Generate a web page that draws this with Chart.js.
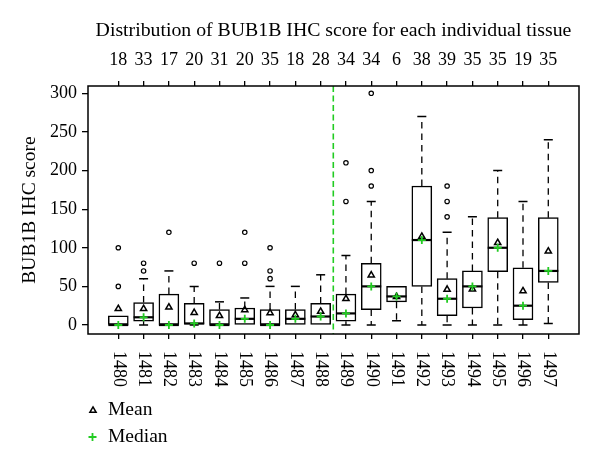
<!DOCTYPE html>
<html>
<head>
<meta charset="utf-8">
<script src="https://cdn.jsdelivr.net/npm/chart.js@4"></script>
<style>
html,body{margin:0;padding:0;background:#fff;}
#wrap{width:600px;height:469px;position:relative;}
</style>
</head>
<body>
<div id="wrap"><canvas id="c"></canvas></div>
<script>
// ---- data ----
const categories = ['1480','1481','1482','1483','1484','1485','1486','1487','1488','1489','1490','1491','1492','1493','1494','1495','1496','1497'];
const counts = [18,33,17,20,31,20,35,18,28,34,34,6,38,39,35,35,19,35];
const q1 = [0,5,0,1,0,0,0,0,0,5,20,30,50,12,22,69,7,55];
const q3 = [12,29,40,28,20,22,20,20,28,40,80,50,180,60,70,139,74,139];
const median = [0,10,0,2,0,8,0,8,11,15,50,37,110,34,50,100,25,70];
const mean = [21,21,23,16,12,19.5,15.5,13,17.5,34,64.5,36.5,114.5,46,46.5,106.5,44,95.5];
const whiskerLow = [0,0,0,0,0,0,0,0,0,0,0,5.5,0,0,0,0,0,2];
const whiskerHigh = [12,60,70,50,30,35,50,50,65,90,160,50,270,120,140,200,160,240];
const outliers = [[50,100],[70,80],[120],[80],[80],[80,120],[60,70,100],[],[],[160,210],[180,200,300],[],[],[140,160,180],[],[],[],[]];
const yTicks = [0,50,100,150,200,250,300];
const groupSplit = 8.5;
const titleText = 'Distribution of BUB1B IHC score for each individual tissue';
const yTitle = 'BUB1B IHC score';
const legendLabels = ['Mean','Median'];

// ---- styles ----
const FONT = '"Liberation Serif", "Times New Roman", serif';
const GREEN = '#22cc22';

const boxData = categories.map((c,i)=>({x:i, y:[q1[i], q3[i]]}));
const meanData = categories.map((c,i)=>({x:i, y:mean[i]}));
const medianData = categories.map((c,i)=>({x:i, y:median[i]}));
const outlierData = [];
outliers.forEach((arr,i)=>arr.forEach(v=>outlierData.push({x:i, y:v})));

function drawTriangle(ctx, cx, cy, r){
  ctx.beginPath();
  for(let k=0;k<3;k++){
    const a = -Math.PI/2 + k*2*Math.PI/3;
    const px = cx + Math.cos(a)*r, py = cy + Math.sin(a)*r;
    if(k===0) ctx.moveTo(px,py); else ctx.lineTo(px,py);
  }
  ctx.closePath();
  ctx.stroke();
}

const boxPlugin = {
  id:'boxExtras',
  beforeDatasetsDraw(chart){
    const {ctx, chartArea:a} = chart;
    const x = chart.scales.x, y = chart.scales.y;
    ctx.save();
    ctx.beginPath(); ctx.rect(a.left,a.top,a.width,a.height); ctx.clip();
    // group separator
    ctx.strokeStyle = GREEN; ctx.lineWidth = 1.6; ctx.setLineDash([6,3.5]);
    const sx = x.getPixelForValue(groupSplit);
    ctx.beginPath(); ctx.moveTo(sx,a.top); ctx.lineTo(sx,a.bottom); ctx.stroke();
    // whiskers
    ctx.strokeStyle = '#000';
    categories.forEach((c,i)=>{
      const px = x.getPixelForValue(i);
      ctx.setLineDash([6.5,5]); ctx.lineWidth = 1.3;
      ctx.beginPath();
      if(whiskerHigh[i] > q3[i]){ ctx.moveTo(px, y.getPixelForValue(q3[i])); ctx.lineTo(px, y.getPixelForValue(whiskerHigh[i])); }
      if(whiskerLow[i] < q1[i]){ ctx.moveTo(px, y.getPixelForValue(q1[i])); ctx.lineTo(px, y.getPixelForValue(whiskerLow[i])); }
      ctx.stroke();
      ctx.setLineDash([]); ctx.lineWidth = 1.5;
      ctx.beginPath();
      if(whiskerHigh[i] > q3[i]){ const py=y.getPixelForValue(whiskerHigh[i]); ctx.moveTo(px-4.5,py); ctx.lineTo(px+4.5,py); }
      if(whiskerLow[i] < q1[i]){ const py=y.getPixelForValue(whiskerLow[i]); ctx.moveTo(px-4.5,py); ctx.lineTo(px+4.5,py); }
      ctx.stroke();
    });
    ctx.restore();
  },
  afterDatasetDraw(chart, args){
    if(args.index !== 0) return;
    const {ctx} = chart;
    const y = chart.scales.y;
    const meta = chart.getDatasetMeta(0);
    ctx.save();
    ctx.strokeStyle = '#000'; ctx.lineWidth = 2.2;
    meta.data.forEach((bar,i)=>{
      const half = bar.width/2;
      const py = y.getPixelForValue(median[i]);
      ctx.beginPath(); ctx.moveTo(bar.x-half, py); ctx.lineTo(bar.x+half, py); ctx.stroke();
    });
    ctx.restore();
  },
  afterDraw(chart){
    const {ctx, chartArea:a} = chart;
    const x = chart.scales.x;
    ctx.save();
    // frame
    ctx.strokeStyle = '#000'; ctx.lineWidth = 1.5;
    ctx.strokeRect(a.left, a.top, a.width, a.height);
    // rotated bottom labels
    ctx.fillStyle = '#000';
    ctx.font = '18px ' + FONT;
    ctx.textAlign = 'left'; ctx.textBaseline = 'middle';
    categories.forEach((c,i)=>{
      const px = x.getPixelForValue(i);
      ctx.save();
      ctx.translate(px, a.bottom + 17);
      ctx.rotate(Math.PI/2);
      ctx.fillText(c, 0, 0);
      ctx.restore();
    });
    // legend
    ctx.font = '19.5px ' + FONT;
    ctx.strokeStyle = '#000'; ctx.lineWidth = 1.5;
    drawTriangle(ctx, 93, 410.5, 3.6);
    ctx.fillText(legendLabels[0], 108, 410);
    ctx.strokeStyle = GREEN; ctx.lineWidth = 1.8;
    ctx.beginPath(); ctx.moveTo(88.5,437); ctx.lineTo(96.5,437); ctx.moveTo(92.5,433); ctx.lineTo(92.5,441); ctx.stroke();
    ctx.fillText(legendLabels[1], 108, 437);
    ctx.restore();
  }
};

const catTicks = (scale)=>{ scale.ticks = categories.map((c,i)=>({value:i})); };

new Chart(document.getElementById('c'), {
  type:'bar',
  data:{
    datasets:[
      { type:'bar', label:'box', data:boxData, backgroundColor:'#fff', borderColor:'#000', borderWidth:1.5, borderSkipped:false, barThickness:20, order:5 },
      { type:'scatter', label:'outliers', data:outlierData, pointStyle:'circle', radius:2.2, borderColor:'#000', backgroundColor:'#fff', borderWidth:1.2, order:3 },
      { type:'scatter', label:legendLabels[0], data:meanData, pointStyle:'triangle', radius:3.6, borderColor:'#000', backgroundColor:'rgba(0,0,0,0)', borderWidth:1.5, order:2 },
      { type:'scatter', label:legendLabels[1], data:medianData, pointStyle:'cross', radius:4, borderColor:GREEN, borderWidth:1.8, order:1 }
    ]
  },
  options:{
    responsive:true, maintainAspectRatio:false, animation:false,
    layout:{ padding:{left:0, right:21, top:0, bottom:0} },
    plugins:{ legend:{display:false}, tooltip:{enabled:false}, title:{display:false} },
    font:{family:FONT},
    scales:{
      x:{
        type:'linear', position:'bottom', min:-1.198, max:18.214, offset:false,
        afterBuildTicks:catTicks,
        afterFit(s){ s.height = 135; },
        ticks:{display:false, autoSkip:false},
        grid:{offset:false, drawOnChartArea:false, drawTicks:true, tickLength:5, color:'#000', lineWidth:1.3},
        border:{display:false}
      },
      x2:{
        type:'linear', position:'top', min:-1.198, max:18.214, offset:false,
        afterBuildTicks:catTicks,
        afterFit(s){ s.height = 86; },
        ticks:{autoSkip:false, maxRotation:0, minRotation:0, padding:10, color:'#000', font:{family:FONT, size:18},
               callback:(v)=>counts[v] },
        grid:{offset:false, drawOnChartArea:false, drawTicks:true, tickLength:5, color:'#000', lineWidth:1.3},
        border:{display:false},
        title:{display:true, text:titleText, color:'#000', font:{family:FONT, size:19.8}, padding:{top:19.1, bottom:0}}
      },
      y:{
        type:'linear', position:'left', min:-11.65, max:309.45,
        afterBuildTicks(s){ s.ticks = yTicks.map(v=>({value:v})); },
        afterFit(s){ s.width = 88; },
        ticks:{padding:5, color:'#000', font:{family:FONT, size:18}},
        grid:{drawOnChartArea:false, drawTicks:true, tickLength:6, color:'#000', lineWidth:1.3},
        border:{display:false},
        title:{display:true, text:yTitle, color:'#000', font:{family:FONT, size:19.5}, padding:{top:18.3, bottom:0}}
      }
    }
  },
  plugins:[boxPlugin]
});
</script>
</body>
</html>
